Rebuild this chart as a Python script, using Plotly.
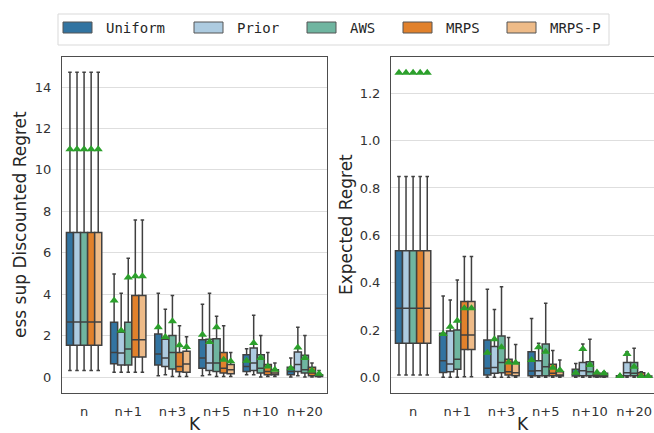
import plotly.graph_objects as go

CATEGORIES = ["n", "n+1", "n+3", "n+5", "n+10", "n+20"]
METHODS = ["Uniform", "Prior", "AWS", "MRPS", "MRPS-P"]
COLORS = ["#3274a1", "#adcbe0", "#6fb5a0", "#e1812c", "#eebb88"]

# ---- Left panel: ess sup Discounted Regret ----
ESS_LO = {
    "Uniform": [0.32, 0.23, 0.06, 0.06, 0.11, 0.0],
    "Prior":   [0.32, 0.23, 0.11, 0.11, 0.11, 0.06],
    "AWS":     [0.32, 0.23, 0.03, 0.03, 0.0, 0.0],
    "MRPS":    [0.32, 0.23, 0.03, 0.03, 0.03, 0.0],
    "MRPS-P":  [0.32, 0.23, 0.03, 0.03, 0.03, 0.0],
}
ESS_Q1 = {
    "Uniform": [1.53, 0.64, 0.58, 0.43, 0.27, 0.11],
    "Prior":   [1.53, 0.58, 0.51, 0.32, 0.32, 0.27],
    "AWS":     [1.53, 0.58, 0.39, 0.27, 0.19, 0.19],
    "MRPS":    [1.53, 0.97, 0.26, 0.19, 0.11, 0.06],
    "MRPS-P":  [1.53, 0.97, 0.23, 0.16, 0.11, 0.03],
}
ESS_MED = {
    "Uniform": [2.66, 1.19, 1.11, 0.92, 0.51, 0.27],
    "Prior":   [2.66, 1.16, 0.92, 0.68, 0.68, 0.60],
    "AWS":     [2.66, 1.35, 1.19, 0.68, 0.43, 0.35],
    "MRPS":    [2.66, 1.80, 0.51, 0.43, 0.27, 0.19],
    "MRPS-P":  [2.66, 1.80, 0.63, 0.35, 0.19, 0.06],
}
ESS_Q3 = {
    "Uniform": [6.98, 2.64, 2.08, 1.80, 1.08, 0.47],
    "Prior":   [6.98, 2.16, 1.83, 1.83, 1.40, 1.21],
    "AWS":     [6.98, 2.64, 2.01, 1.85, 1.08, 1.05],
    "MRPS":    [6.98, 3.94, 1.19, 1.19, 0.60, 0.47],
    "MRPS-P":  [6.98, 3.94, 1.24, 0.60, 0.35, 0.11],
}
ESS_HI = {
    "Uniform": [14.71, 4.97, 4.04, 3.52, 1.37, 0.92],
    "Prior":   [14.71, 4.04, 3.27, 4.04, 2.98, 2.40],
    "AWS":     [14.71, 5.73, 3.94, 2.93, 2.01, 2.01],
    "MRPS":    [14.71, 7.58, 2.48, 2.48, 1.19, 0.68],
    "MRPS-P":  [14.71, 7.58, 1.95, 1.19, 0.68, 0.32],
}
ESS_MEAN = {
    "Uniform": [11.0, 3.70, 2.40, 2.04, 0.79, 0.43],
    "Prior":   [11.0, 2.25, 1.93, 1.69, 1.64, 1.43],
    "AWS":     [11.0, 4.81, 2.69, 2.40, 0.92, 0.92],
    "MRPS":    [11.0, 4.86, 1.53, 0.84, 0.51, 0.32],
    "MRPS-P":  [11.0, 4.86, 1.45, 0.76, 0.35, 0.16],
}

# ---- Right panel: Expected Regret ----
EXP_LO = {
    "Uniform": [0.01, 0.0, 0.0, 0.0, 0.0, 0.0],
    "Prior":   [0.01, 0.0, 0.0, 0.0, 0.0, 0.0],
    "AWS":     [0.01, 0.0, 0.0, 0.0, 0.0, 0.0],
    "MRPS":    [0.01, 0.003, 0.0, 0.0, 0.0, 0.0],
    "MRPS-P":  [0.01, 0.003, 0.0, 0.0, 0.0, 0.0],
}
EXP_Q1 = {
    "Uniform": [0.144, 0.021, 0.010, 0.007, 0.006, 0.0],
    "Prior":   [0.144, 0.024, 0.017, 0.007, 0.007, 0.007],
    "AWS":     [0.144, 0.034, 0.020, 0.007, 0.007, 0.007],
    "MRPS":    [0.144, 0.118, 0.010, 0.007, 0.003, 0.003],
    "MRPS-P":  [0.144, 0.118, 0.007, 0.006, 0.003, 0.001],
}
EXP_MED = {
    "Uniform": [0.292, 0.070, 0.038, 0.027, 0.014, 0.003],
    "Prior":   [0.292, 0.056, 0.042, 0.028, 0.028, 0.020],
    "AWS":     [0.292, 0.077, 0.063, 0.045, 0.024, 0.017],
    "MRPS":    [0.292, 0.179, 0.024, 0.017, 0.007, 0.007],
    "MRPS-P":  [0.292, 0.179, 0.020, 0.010, 0.007, 0.003],
}
EXP_Q3 = {
    "Uniform": [0.535, 0.186, 0.158, 0.108, 0.034, 0.007],
    "Prior":   [0.535, 0.196, 0.130, 0.070, 0.063, 0.063],
    "AWS":     [0.535, 0.200, 0.175, 0.141, 0.066, 0.063],
    "MRPS":    [0.535, 0.320, 0.077, 0.055, 0.014, 0.020],
    "MRPS-P":  [0.535, 0.320, 0.063, 0.024, 0.017, 0.006],
}
EXP_HI = {
    "Uniform": [0.848, 0.344, 0.372, 0.249, 0.059, 0.010],
    "Prior":   [0.848, 0.327, 0.287, 0.144, 0.141, 0.108],
    "AWS":     [0.848, 0.411, 0.383, 0.313, 0.161, 0.123],
    "MRPS":    [0.848, 0.510, 0.168, 0.113, 0.020, 0.024],
    "MRPS-P":  [0.848, 0.510, 0.139, 0.073, 0.024, 0.007],
}
EXP_MEAN = {
    "Uniform": [1.287, 0.183, 0.104, 0.073, 0.020, 0.006],
    "Prior":   [1.287, 0.214, 0.161, 0.127, 0.120, 0.099],
    "AWS":     [1.287, 0.239, 0.127, 0.108, 0.052, 0.045],
    "MRPS":    [1.287, 0.292, 0.063, 0.041, 0.021, 0.006],
    "MRPS-P":  [1.287, 0.292, 0.062, 0.031, 0.017, 0.006],
}

ESS_TICKS = [0, 2, 4, 6, 8, 10, 12, 14]
EXP_TICKS = [0.0, 0.2, 0.4, 0.6, 0.8, 1.0, 1.2]
EXP_TICKTEXT = ["0.0", "0.2", "0.4", "0.6", "0.8", "1.0", "1.2"]

W, H = 654, 433
ML, MR, MT, MB = 62, 0, 57, 40
PW, PH = W - ML - MR, H - MT - MB

def px(x):
    return (x - ML) / PW

def py(y):
    return (H - MB - y) / PH

LINE = "#404040"
MEANC = "#2ca02c"
TICKC = "#333333"
GROUP_W = 0.8
n_m = len(METHODS)
box_w = GROUP_W / n_m

fig = go.Figure()

panels = [
    ("x", "y", ESS_LO, ESS_Q1, ESS_MED, ESS_Q3, ESS_HI, ESS_MEAN),
    ("x2", "y2", EXP_LO, EXP_Q1, EXP_MED, EXP_Q3, EXP_HI, EXP_MEAN),
]
for xa, ya, LO, Q1, MED, Q3, HI, MEAN in panels:
    for j, m in enumerate(METHODS):
        off = -GROUP_W / 2 + box_w * (j + 0.5)
        xs = [i + off for i in range(len(CATEGORIES))]
        fig.add_trace(go.Box(
            x=xs, lowerfence=LO[m], q1=Q1[m], median=MED[m], q3=Q3[m],
            upperfence=HI[m], width=box_w, whiskerwidth=0.5,
            fillcolor=COLORS[j], line=dict(color=LINE, width=1.5),
            boxpoints=False, name=m, showlegend=False, hoverinfo="skip",
            xaxis=xa, yaxis=ya,
        ))
    for j, m in enumerate(METHODS):
        off = -GROUP_W / 2 + box_w * (j + 0.5)
        xs = [i + off for i in range(len(CATEGORIES))]
        fig.add_trace(go.Scatter(
            x=xs, y=MEAN[m], mode="markers",
            marker=dict(symbol="triangle-up", size=8, color=MEANC, line=dict(width=0)),
            showlegend=False, hoverinfo="skip", xaxis=xa, yaxis=ya,
        ))

axis_common = dict(
    showline=True, mirror=True, linecolor="#4d4d4d", linewidth=1,
    zeroline=False, tickfont=dict(family="DejaVu Sans", size=13, color=TICKC),
)
xcommon = dict(axis_common, tickvals=list(range(len(CATEGORIES))), ticktext=CATEGORIES,
               showgrid=False, ticks="outside", ticklen=6, tickcolor="rgba(0,0,0,0)")

fig.update_layout(
    width=W, height=H,
    margin=dict(l=ML, r=MR, t=MT, b=MB),
    paper_bgcolor="white", plot_bgcolor="white",
    boxmode="overlay", showlegend=False,
    xaxis=dict(xcommon, domain=[0, px(327)], range=[-0.5, 5.5], anchor="y"),
    yaxis=dict(axis_common, range=[-0.77, 15.45], tickvals=ESS_TICKS,
               showgrid=True, gridcolor="#dedede", gridwidth=1,
               ticks="outside", ticklen=7, tickcolor="rgba(0,0,0,0)", anchor="x"),
    xaxis2=dict(xcommon, domain=[px(391), 1], range=[-0.5, 5.45], anchor="y2"),
    yaxis2=dict(axis_common, range=[-0.066, 1.353], tickvals=EXP_TICKS, ticktext=EXP_TICKTEXT,
                showgrid=True, gridcolor="#dedede", gridwidth=1,
                ticks="outside", ticklen=7, tickcolor="rgba(0,0,0,0)", anchor="x2"),
)

title_font = dict(family="DejaVu Sans", size=17, color="#262626")
annotations = [
    dict(text="ess sup Discounted Regret", x=px(20), y=py(225), xref="paper", yref="paper",
         showarrow=False, textangle=-90, font=title_font, xanchor="center", yanchor="middle"),
    dict(text="Expected Regret", x=px(346), y=py(225), xref="paper", yref="paper",
         showarrow=False, textangle=-90, font=title_font, xanchor="center", yanchor="middle"),
    dict(text="K", x=px(195), y=py(436), xref="paper", yref="paper",
         showarrow=False, font=title_font, xanchor="center", yanchor="bottom"),
    dict(text="K", x=px(523), y=py(436), xref="paper", yref="paper",
         showarrow=False, font=title_font, xanchor="center", yanchor="bottom"),
]

# manual legend (patch + label)
shapes = [dict(type="rect", xref="paper", yref="paper", x0=px(58), x1=px(609),
               y0=py(45), y1=py(14), line=dict(color="#d9d9d9", width=1),
               fillcolor="white", layer="above")]
patch_x = [63, 194, 307, 403, 507]
for j, m in enumerate(METHODS):
    x0 = patch_x[j]
    shapes.append(dict(type="rect", xref="paper", yref="paper",
                       x0=px(x0), x1=px(x0 + 29), y0=py(33), y1=py(22),
                       fillcolor=COLORS[j], line=dict(color="#555555", width=1), layer="above"))
    annotations.append(dict(text=m, x=px(x0 + 41), y=py(28), xref="paper", yref="paper",
                            showarrow=False, xanchor="left", yanchor="middle",
                            font=dict(family="DejaVu Sans Mono", size=14, color="#262626")))

fig.update_layout(shapes=shapes, annotations=annotations)
fig.write_html("out.html")
